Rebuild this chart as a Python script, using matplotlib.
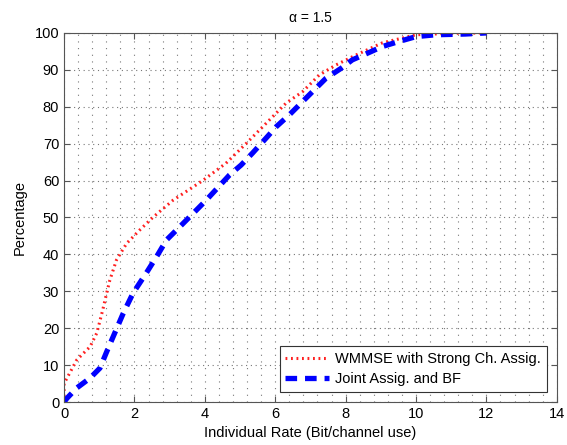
import matplotlib
matplotlib.use("Agg")
import matplotlib.pyplot as plt
from matplotlib.ticker import MultipleLocator

plt.rcParams['font.family'] = ['Liberation Sans', 'DejaVu Sans']
plt.rcParams['font.size'] = 10.5

# WMMSE with strong channel assignment
rate_wmmse = [0.0, 0.0, 0.36, 0.74, 0.93, 1.1, 1.21, 1.3, 1.49, 1.78, 2.15, 2.52,
              3.1, 3.94, 4.6, 5.17, 5.74, 6.31, 6.78, 7.25, 7.72, 8.29, 9.04, 10.0,
              11.0, 12.0]
pct_wmmse = [0.0, 5.0, 11.4, 15.0, 18.7, 25.0, 29.5, 33.0, 38.5, 43.0, 46.6, 50.0,
             54.7, 60.0, 64.7, 70.0, 75.5, 81.0, 84.1, 88.6, 91.3, 94.0, 97.3, 99.5,
             99.9, 100.0]

# Joint assignment and beamforming
rate_joint = [0.0, 0.08, 0.36, 0.74, 1.02, 1.21, 1.44, 1.68, 1.96, 2.34, 2.63, 2.91,
              3.29, 3.76, 4.04, 4.7, 5.03, 5.36, 5.74, 6.03, 6.4, 7.06, 7.44, 7.87,
              8.19, 8.62, 9.04, 9.52, 10.0, 10.56, 11.4, 12.0]
pct_joint = [0.0, 1.0, 3.8, 6.5, 9.2, 13.6, 18.7, 24.0, 29.5, 35.0, 39.4, 43.9,
             47.5, 52.0, 54.7, 61.5, 64.2, 67.5, 71.5, 74.6, 77.8, 84.1, 87.7, 90.4,
             92.7, 94.5, 96.3, 97.7, 99.0, 99.5, 99.7, 100.0]

fig = plt.figure(figsize=(5.67, 4.45), dpi=100)
ax = fig.add_axes([0.113, 0.0966, 0.869, 0.8294])

ax.plot(rate_wmmse, pct_wmmse, color='#ff2020', linestyle=(0, (0.6, 1.2)), linewidth=2.2,
        label='WMMSE with Strong Ch. Assig.')
ax.plot(rate_joint, pct_joint, color='blue', linestyle=(0, (2.2, 1.5)), linewidth=3.8,
        label='Joint Assig. and BF')

ax.set_xlim(0, 14)
ax.set_ylim(0, 100)
ax.xaxis.set_major_locator(MultipleLocator(2))
ax.yaxis.set_major_locator(MultipleLocator(10))
ax.xaxis.set_minor_locator(MultipleLocator(0.4))
ax.yaxis.set_minor_locator(MultipleLocator(10))

# matlab-style dotted grid: looks like a dot lattice
ax.xaxis.grid(True, which='both', color='#777777', linestyle=(0, (1, 5)), linewidth=0.8)
ax.yaxis.grid(True, which='major', color='#777777', linestyle=(0, (1, 3.3)), linewidth=0.8)
ax.set_axisbelow(True)

ax.tick_params(which='major', direction='in', top=True, right=True, length=4,
               color='#555555', labelsize=10.5)
ax.tick_params(which='minor', length=0)
for sp in ax.spines.values():
    sp.set_color('#555555')
    sp.set_linewidth(0.8)

ax.set_xlabel('Individual Rate (Bit/channel use)', labelpad=4)
ax.set_ylabel('Percentage', labelpad=6)
ax.set_title('α = 1.5', pad=8, fontsize=10)

leg = ax.legend(loc='lower right', fancybox=False, framealpha=1, edgecolor='#333333',
                handlelength=3.0, borderaxespad=0.7, fontsize=10.5, labelspacing=0.4,
                handletextpad=0.4)
leg.get_frame().set_linewidth(0.8)

fig.savefig('out.png', dpi=100)
